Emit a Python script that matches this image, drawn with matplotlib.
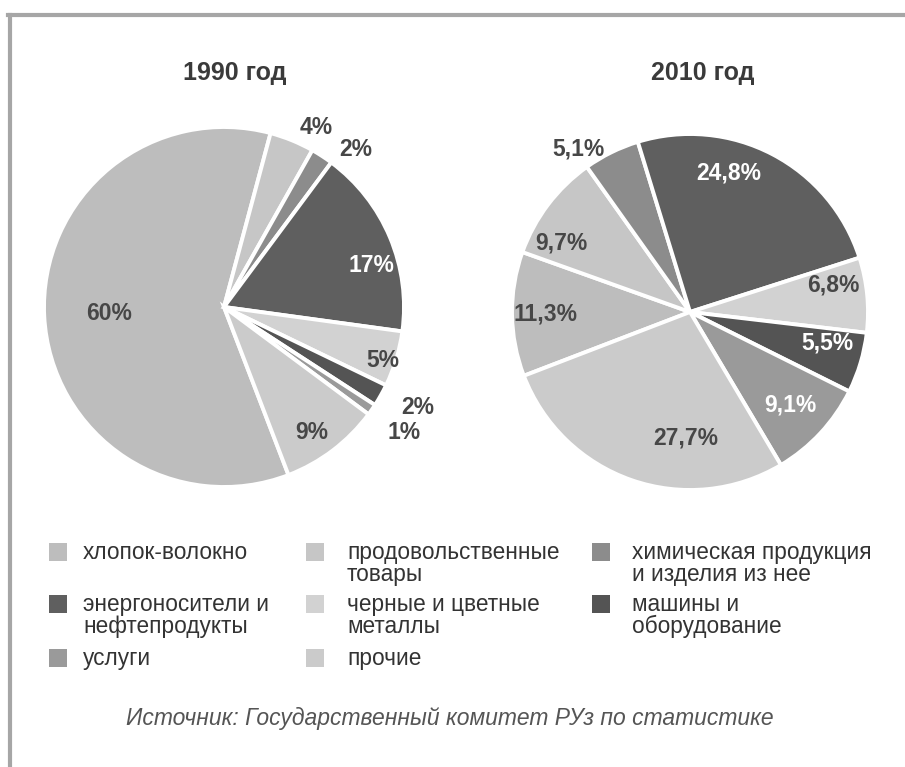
import numpy as np
import matplotlib
matplotlib.use("Agg")
import matplotlib.pyplot as plt
from matplotlib.patches import Rectangle
from matplotlib.lines import Line2D

plt.rcParams['font.family'] = ['Liberation Sans', 'DejaVu Sans']

# ================= DATA =================
categories = ["хлопок-волокно", "продовольственные\nтовары",
              "химическая продукция\nи изделия из нее",
              "энергоносители и\nнефтепродукты", "черные и цветные\nметаллы",
              "машины и\nоборудование", "услуги", "прочие"]
colors = ["#bdbdbd", "#c6c6c6", "#8c8c8c", "#5f5f5f",
          "#d2d2d2", "#545454", "#9a9a9a", "#cbcbcb"]

years = ["1990 год", "2010 год"]
values_1990 = [60, 4, 2, 17, 5, 2, 1, 9]
values_2010 = [11.3, 9.7, 5.1, 24.8, 6.8, 5.5, 9.1, 27.7]
labels_1990 = ["60%", "4%", "2%", "17%", "5%", "2%", "1%", "9%"]
labels_2010 = ["11,3%", "9,7%", "5,1%", "24,8%", "6,8%", "5,5%", "9,1%", "27,7%"]

# ================= LAYOUT (pixels) =================
W, H = 905, 767
fig = plt.figure(figsize=(W / 100, H / 100), dpi=100)
fig.patch.set_facecolor("white")

DARK = "#474747"


def px_axes(cx, cy, r):
    return fig.add_axes([(cx - r) / W, 1 - (cy + r) / H, 2 * r / W, 2 * r / H])


def draw_pie(ax, vals, labels, start, rdist, dang, lcol):
    wedges, _ = ax.pie(vals, colors=colors, startangle=start, counterclock=False,
                       radius=1, wedgeprops=dict(edgecolor="white", linewidth=2.8))
    for w, lab, rd, da, c in zip(wedges, labels, rdist, dang, lcol):
        ang = np.deg2rad((w.theta1 + w.theta2) / 2 + da)
        ax.text(rd * np.cos(ang), rd * np.sin(ang), lab, ha="center", va="center",
                fontsize=16.5, fontweight="bold", color=c)
    ax.set_xlim(-1, 1)
    ax.set_ylim(-1, 1)
    ax.axis("off")


ax1 = px_axes(224, 307, 180)
draw_pie(ax1, values_1990, labels_1990, 291,
         [0.64, 1.12, 1.14, 0.85, 0.93, 1.21, 1.22, 0.85],
         [0, -5, -7, -7, -2, 2, 0, -2],
         [DARK, DARK, DARK, "white", DARK, DARK, DARK, DARK])

ax2 = px_axes(690, 312, 178)
draw_pie(ax2, values_2010, labels_2010, 201,
         [0.81, 0.82, 1.11, 0.81, 0.82, 0.79, 0.77, 0.71],
         [0, 9, 8, 12, 5, 4, 0, 17],
         [DARK, DARK, DARK, "white", DARK, "white", "white", DARK])

# titles
fig.text(235 / W, 1 - 73 / H, years[0], ha="center", va="center",
         fontsize=18, fontweight="bold", color="#3a3a3a")
fig.text(703 / W, 1 - 73 / H, years[1], ha="center", va="center",
         fontsize=18, fontweight="bold", color="#3a3a3a")

# ================= LEGEND =================
col_sq = [58, 315, 601]
col_tx = [83, 347, 632]
row_y = [552, 604, 658]
for i, (lab, c) in enumerate(zip(categories, colors)):
    row, col = divmod(i, 3)
    x, y = col_sq[col], row_y[row]
    fig.add_artist(Rectangle(((x - 9) / W, 1 - (y + 9) / H), 18 / W, 18 / H,
                             transform=fig.transFigure, facecolor=c,
                             edgecolor="none"))
    fig.text(col_tx[col] / W, 1 - (y - 11) / H, lab, ha="left", va="top",
             fontsize=16.3, color="#333333", linespacing=0.95)

# source
fig.text(450 / W, 1 - 718 / H, "Источник: Государственный комитет РУз по статистике",
         ha="center", va="center", fontsize=16.5, style="italic", color="#555555")

# frame lines (top and left)
fig.add_artist(Line2D([8 / W, 1], [1 - 15 / H, 1 - 15 / H], transform=fig.transFigure,
                      color="#a6a6a6", linewidth=3))
fig.add_artist(Line2D([9.5 / W, 9.5 / W], [0, 1 - 15 / H], transform=fig.transFigure,
                      color="#a6a6a6", linewidth=3))

fig.savefig("out.png", dpi=100)
